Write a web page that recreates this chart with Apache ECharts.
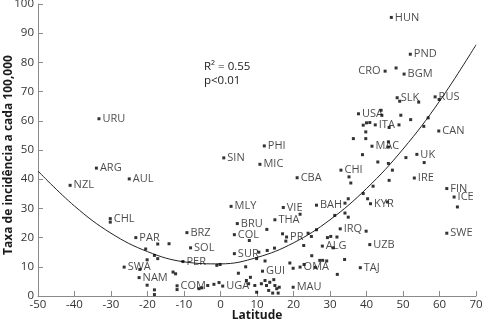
<!DOCTYPE html>
<html>
<head>
<meta charset="utf-8">
<script src="https://cdn.jsdelivr.net/npm/echarts@6/dist/echarts.min.js"></script>
<style>
html, body { margin: 0; padding: 0; background: #fff; }
#chart { width: 482px; height: 322px; }
</style>
</head>
<body>
<div id="chart"></div>
<script>
// Named countries: latitude and incidence per 100,000
const countries = ['URU','ARG','AUL','NZL','CHL','PAR','SWA','NAM','BRZ','SOL','PER','COM','UGA','MLY','BRU','COL','SUR','SIN','PHI','MIC','GUI','CBA','VIE','THA','PR','MAU','OMA','BAH','CHI','IRQ','ALG','KYR','UZB','TAJ','USA','ITA','MAC','UK','IRE','HUN','PND','CRO','BGM','SLK','RUS','CAN','FIN','ICE','SWE'];
const countryLat = [-33.3,-34.0,-25.0,-41.2,-30.2,-23.2,-26.4,-22.3,-9.2,-8.2,-10.3,-11.9,0.6,2.9,4.6,3.8,3.8,0.9,12.0,10.8,11.5,21.0,17.2,14.9,18.1,19.9,21.8,26.3,33.0,32.8,27.9,41.1,40.9,38.3,37.8,42.4,41.5,53.8,53.1,46.8,52.0,45.1,50.3,48.4,58.8,59.8,62.0,64.0,62.0];
const countryRate = [60.7,43.8,40.1,37.9,26.5,20.0,9.9,6.3,21.7,16.5,11.8,3.5,3.4,30.7,24.8,21.0,14.5,47.3,51.4,45.1,8.5,40.5,30.3,26.1,20.2,3.0,9.9,31.1,43.1,23.0,17.1,31.6,17.6,9.7,62.4,58.6,51.3,48.5,40.4,95.4,82.8,77.0,76.0,67.9,68.2,56.5,36.8,33.9,21.5];

// Unlabelled observations
const otherLat = [-30.2,-20.5,-17.2,-18.1,-17.2,-20.1,-22.1,-20.1,-18.1,-18.1,-14.1,-13.0,-12.3,
  -11.9,-5.9,-5.1,-3.5,-1.8,-0.4,-1.0,-0.1,
  7.9,4.9,6.9,9.9,10.5,12.8,14.8,12.7,12.2,
  7.1,8.2,7.7,9.4,9.9,11.2,12.2,12.6,13.5,14.6,14.9,15.4,16.1,13.2,14.3,15.8,
  17.0,17.9,19.0,19.9,21.8,22.8,24.0,24.9,26.3,
  22.9,25.0,27.2,28.0,29.1,26.0,
  29.3,30.9,31.9,30.2,
  32.0,34.0,31.3,34.1,35.0,34.1,35.0,
  40.3,39.1,45.7,39.9,
  35.2,35.7,38.9,36.4,39.8,39.8,
  46.0,46.0,43.1,46.0,47.1,46.2,41.8,
  44.0,44.2,39.1,40.0,40.9,46.2,49.4,48.9,52.1,
  55.8,50.8,
  48.1,49.1,54.3,59.9,56.9,55.7,64.9];
const otherRate = [25.3,16.1,17.8,13.9,12.8,12.4,9.1,3.7,2.1,0.5,17.9,8.2,7.6,
  2.2,2.5,2.8,3.6,4.0,4.6,10.5,10.8,
  19.0,7.8,10.0,12.8,15.0,15.6,16.4,22.8,12.0,
  5.3,6.4,4.2,3.6,1.3,4.2,5.3,3.6,4.7,5.6,3.6,2.5,3.0,1.9,1.0,1.0,
  21.3,18.8,11.3,9.5,28.0,17.3,21.5,20.4,22.7,
  10.8,13.8,12.2,12.2,12.0,9.8,
  20.0,16.5,20.2,20.4,
  7.4,12.5,27.6,28.4,27.0,31.8,33.3,
  33.3,35.1,32.2,22.2,
  40.8,38.7,48.4,53.9,53.9,56.2,
  52.8,51.0,45.9,45.4,43.1,39.6,37.6,
  63.6,61.9,58.5,59.3,59.4,57.7,61.9,58.6,60.4,
  45.7,47.4,
  78.1,66.7,66.4,67.3,61.0,58.1,30.5];

// Fitted trend read along the latitude axis
const fitLat  = [-50,-40,-30,-20,-10,0,10,20,30,40,50,60,70];
const fitRate = [42.8,30.8,21.5,15.2,11.7,11.0,13.2,18.2,26.1,36.8,50.3,66.7,86.0];

const xTicks = { min: -50, max: 70, step: 10 };
const yTicks = { min: 0, max: 100, step: 10 };

const xTitle = 'Latitude';
const yTitle = 'Taxa de incidência a cada 100,000';
const fitNote = ['R² = 0.55', 'p<0.01'];

const labelFont = '"Open Sans", "DejaVu Sans", sans-serif';
const axisGrey = '#8a8a8a';
const ink = '#1a1a1a';

const named = countries.map((c, i) => ({
  name: c,
  value: [countryLat[i], countryRate[i]],
  label: c === 'CRO' ? { position: 'left', distance: 3 } :
         c === 'ICE' ? { position: 'right', offset: [-1, 5] } :
         c === 'FIN' ? { position: 'right', offset: [4, 3] } : undefined
}));
const others = otherLat.map((x, i) => [x, otherRate[i]]);
const fitLine = fitLat.map((x, i) => [x, fitRate[i]]);

const chart = echarts.init(document.getElementById('chart'), null, { renderer: 'canvas' });
chart.setOption({
  animation: false,
  backgroundColor: '#fff',
  grid: { left: 38, right: 6, top: 4, bottom: 26, containLabel: false, outerBoundsMode: 'none' },
  xAxis: {
    type: 'value', min: xTicks.min, max: xTicks.max, interval: xTicks.step,
    axisLine: { show: true, onZero: false, lineStyle: { color: axisGrey, width: 1 } },
    axisTick: { show: true, inside: true, length: 5, lineStyle: { color: axisGrey } },
    axisLabel: { fontFamily: labelFont, fontSize: 11.5, color: '#333', margin: 3 },
    splitLine: { show: false }
  },
  yAxis: {
    type: 'value', min: yTicks.min, max: yTicks.max, interval: yTicks.step,
    axisLine: { show: true, onZero: false, lineStyle: { color: axisGrey, width: 1 } },
    axisTick: { show: true, inside: true, length: 5, lineStyle: { color: axisGrey } },
    axisLabel: { fontFamily: labelFont, fontSize: 11.5, color: '#333', margin: 4 },
    splitLine: { show: false }
  },
  series: [
    {
      type: 'line', data: fitLine, smooth: 0.4, symbol: 'none', z: 1,
      lineStyle: { color: '#222', width: 1 }
    },
    {
      type: 'scatter', data: others, symbol: 'rect', symbolSize: 3, z: 3,
      itemStyle: { color: '#000' }
    },
    {
      type: 'scatter', data: named, symbol: 'rect', symbolSize: 3, z: 3,
      itemStyle: { color: '#000' },
      label: {
        show: true, position: 'right', distance: 2,
        formatter: p => p.name,
        fontFamily: labelFont, fontSize: 11, color: ink
      },
      labelLayout: { hideOverlap: false }
    }
  ],
  graphic: [
    {
      type: 'text', x: 9, y: 155, rotation: Math.PI / 2,
      style: { text: yTitle, fontFamily: labelFont, fontWeight: 'bold', fontSize: 12,
               fill: ink, align: 'center', verticalAlign: 'middle' }
    },
    {
      type: 'text', x: 257, y: 316,
      style: { text: xTitle, fontFamily: labelFont, fontWeight: 'bold', fontSize: 12,
               fill: ink, align: 'center', verticalAlign: 'middle' }
    },
    {
      type: 'text', left: 204, top: 60,
      style: { text: fitNote.join('\n'), fontFamily: labelFont, fontSize: 11.5, lineHeight: 14, fill: ink }
    }
  ]
});
</script>
</body>
</html>
